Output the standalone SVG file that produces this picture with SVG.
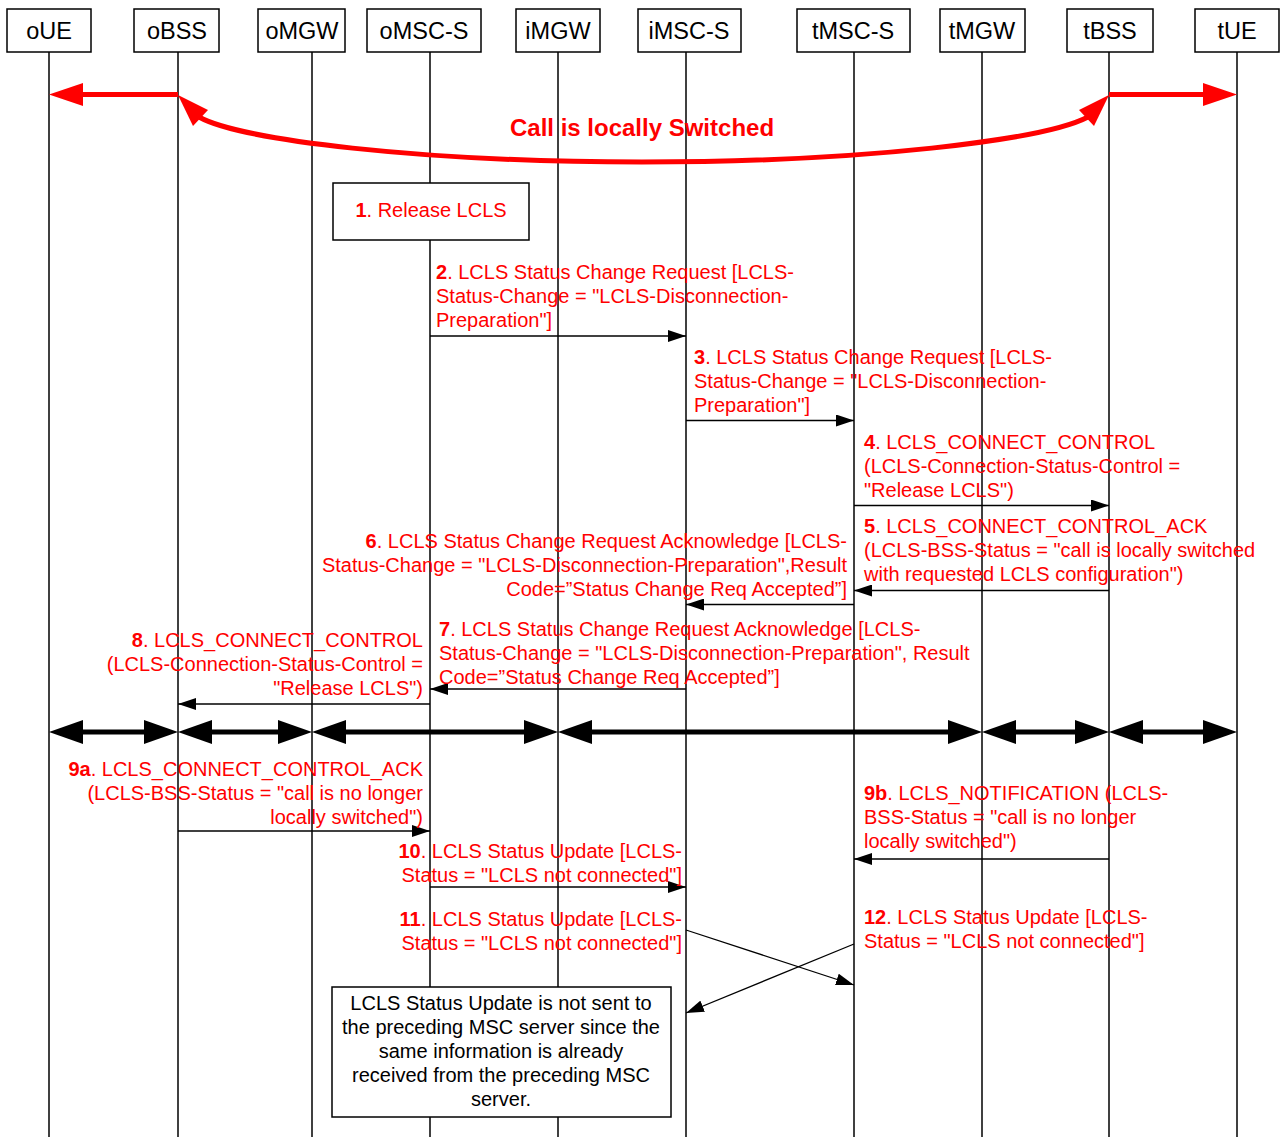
<svg xmlns="http://www.w3.org/2000/svg" width="1282" height="1137" viewBox="0 0 1282 1137">
<style>
.hdr rect{fill:#fff;stroke:#000;stroke-width:1.5}
.hdr text{font-family:"Liberation Sans",Arial,sans-serif;font-size:23.5px;fill:#000;text-anchor:middle}
.life{stroke:#000;stroke-width:1.5}
.msg{stroke:#000;stroke-width:1.3;fill:none;marker-end:url(#ah)}
.thick{stroke:#000;stroke-width:5;marker-start:url(#tk);marker-end:url(#tk)}
.red{stroke:#f00;stroke-width:5;fill:none}
.lbl{font-family:"Liberation Sans",Arial,sans-serif;font-size:20px;fill:#f00}
.lbl tspan.n{font-weight:bold}
.r{text-anchor:end}
.note{font-family:"Liberation Sans",Arial,sans-serif;font-size:20px;fill:#000;text-anchor:middle}
.box{fill:#fff;stroke:#000;stroke-width:1.5}
</style>
<defs>
<marker id="ah" markerUnits="userSpaceOnUse" markerWidth="18" markerHeight="12" refX="18" refY="6" orient="auto"><path d="M0,0 L18,6 L0,12 z" fill="#000"/></marker>
<marker id="tk" markerUnits="userSpaceOnUse" markerWidth="34" markerHeight="24" refX="0" refY="12" orient="auto-start-reverse"><path d="M0,0 L34,12 L0,24 z" fill="#000"/></marker>
<marker id="rk" markerUnits="userSpaceOnUse" markerWidth="34" markerHeight="24" refX="0" refY="12" orient="auto-start-reverse"><path d="M0,0 L34,12 L0,24 z" fill="#f00"/></marker>
</defs>

<g id="lifelines">
<line class="life" x1="49" y1="52" x2="49" y2="1137"/>
<line class="life" x1="178" y1="52" x2="178" y2="1137"/>
<line class="life" x1="312" y1="52" x2="312" y2="1137"/>
<line class="life" x1="430" y1="52" x2="430" y2="1137"/>
<line class="life" x1="558" y1="52" x2="558" y2="1137"/>
<line class="life" x1="686" y1="52" x2="686" y2="1137"/>
<line class="life" x1="854" y1="52" x2="854" y2="1137"/>
<line class="life" x1="982" y1="52" x2="982" y2="1137"/>
<line class="life" x1="1109" y1="52" x2="1109" y2="1137"/>
<line class="life" x1="1237" y1="52" x2="1237" y2="1137"/>
</g>

<g id="oUE" class="hdr"><rect x="7" y="9" width="84" height="43"/><text x="49" y="38.5">oUE</text></g>
<g id="oBSS" class="hdr"><rect x="134" y="9" width="85" height="43"/><text x="177" y="38.5">oBSS</text></g>
<g id="oMGW" class="hdr"><rect x="258" y="9" width="87" height="43"/><text x="302" y="38.5">oMGW</text></g>
<g id="oMSC-S" class="hdr"><rect x="367" y="9" width="114" height="43"/><text x="424" y="38.5">oMSC-S</text></g>
<g id="iMGW" class="hdr"><rect x="516" y="9" width="84" height="43"/><text x="558" y="38.5">iMGW</text></g>
<g id="iMSC-S" class="hdr"><rect x="638" y="9" width="103" height="43"/><text x="689" y="38.5">iMSC-S</text></g>
<g id="tMSC-S" class="hdr"><rect x="797" y="9" width="113" height="43"/><text x="853" y="38.5">tMSC-S</text></g>
<g id="tMGW" class="hdr"><rect x="940" y="9" width="85" height="43"/><text x="982" y="38.5">tMGW</text></g>
<g id="tBSS" class="hdr"><rect x="1067" y="9" width="86" height="43"/><text x="1110" y="38.5">tBSS</text></g>
<g id="tUE" class="hdr"><rect x="1195" y="9" width="84" height="43"/><text x="1237" y="38.5">tUE</text></g>

<g id="local-switch">
<line class="red" x1="178" y1="94.5" x2="83" y2="94.5"/>
<path d="M49,94.5 L83,83 L83,106 z" fill="#f00"/>
<line class="red" x1="1109" y1="94.5" x2="1203" y2="94.5"/>
<path d="M1237,94.5 L1203,83 L1203,106 z" fill="#f00"/>
<path class="red" d="M199,117 C240,140 420,162 642,162 C864,162 1044,140 1088,117"/>
<path d="M178,95 L208,110 L193,126 z" fill="#f00"/>
<path d="M1109,95 L1079,110 L1094,126 z" fill="#f00"/>
<text x="642" y="136" font-family="Liberation Sans, Arial, sans-serif" font-size="24" font-weight="bold" fill="#f00" text-anchor="middle">Call is locally Switched</text>
</g>

<g id="step1">
<rect class="box" x="333" y="183" width="196" height="57"/>
<text class="lbl" x="431" y="217" text-anchor="middle"><tspan class="n">1</tspan>. Release LCLS</text>
</g>

<g id="connectors">
<line class="msg" x1="430" y1="336" x2="686" y2="336"/>
<line class="msg" x1="686" y1="420.5" x2="854" y2="420.5"/>
<line class="msg" x1="854" y1="505.5" x2="1109" y2="505.5"/>
<line class="msg" x1="1109" y1="590.5" x2="854" y2="590.5"/>
<line class="msg" x1="854" y1="604.5" x2="686" y2="604.5"/>
<line class="msg" x1="686" y1="689" x2="430" y2="689"/>
<line class="msg" x1="430" y1="704" x2="178" y2="704"/>
<line class="thick" x1="83" y1="732" x2="144" y2="732"/>
<line class="thick" x1="212" y1="732" x2="278" y2="732"/>
<line class="thick" x1="346" y1="732" x2="524" y2="732"/>
<line class="thick" x1="592" y1="732" x2="948" y2="732"/>
<line class="thick" x1="1016" y1="732" x2="1075" y2="732"/>
<line class="thick" x1="1143" y1="732" x2="1203" y2="732"/>
<line class="msg" x1="178" y1="831" x2="430" y2="831"/>
<line class="msg" x1="1109" y1="859" x2="854" y2="859"/>
<line class="msg" x1="430" y1="887" x2="686" y2="887"/>
<line class="msg" x1="686" y1="930" x2="854" y2="985"/>
<line class="msg" x1="854" y1="944" x2="686" y2="1013"/>
</g>

<g id="labels">
<text class="lbl" x="436"><tspan x="436" y="279"><tspan class="n">2</tspan>. LCLS Status Change Request [LCLS-</tspan><tspan x="436" y="303">Status-Change = "LCLS-Disconnection-</tspan><tspan x="436" y="327">Preparation"]</tspan></text>
<text class="lbl" x="694"><tspan x="694" y="364"><tspan class="n">3</tspan>. LCLS Status Change Request [LCLS-</tspan><tspan x="694" y="388">Status-Change = "LCLS-Disconnection-</tspan><tspan x="694" y="412">Preparation"]</tspan></text>
<text class="lbl" x="864"><tspan x="864" y="449"><tspan class="n">4</tspan>. LCLS_CONNECT_CONTROL</tspan><tspan x="864" y="473">(LCLS-Connection-Status-Control =</tspan><tspan x="864" y="497">"Release LCLS")</tspan></text>
<text class="lbl" x="864"><tspan x="864" y="533"><tspan class="n">5</tspan>. LCLS_CONNECT_CONTROL_ACK</tspan><tspan x="864" y="557">(LCLS-BSS-Status = "call is locally switched</tspan><tspan x="864" y="581">with requested LCLS configuration")</tspan></text>
<text class="lbl r" x="847"><tspan x="847" y="548"><tspan class="n">6</tspan>. LCLS Status Change Request Acknowledge [LCLS-</tspan><tspan x="847" y="572">Status-Change = "LCLS-Disconnection-Preparation",Result</tspan><tspan x="847" y="596">Code=”Status Change Req Accepted”]</tspan></text>
<text class="lbl" x="439"><tspan x="439" y="636"><tspan class="n">7</tspan>. LCLS Status Change Request Acknowledge [LCLS-</tspan><tspan x="439" y="660">Status-Change = "LCLS-Disconnection-Preparation", Result</tspan><tspan x="439" y="684">Code=”Status Change Req Accepted”]</tspan></text>
<text class="lbl r" x="423"><tspan x="423" y="647"><tspan class="n">8</tspan>. LCLS_CONNECT_CONTROL</tspan><tspan x="423" y="671">(LCLS-Connection-Status-Control =</tspan><tspan x="423" y="695">"Release LCLS")</tspan></text>
<text class="lbl r" x="423"><tspan x="423" y="776"><tspan class="n">9a</tspan>. LCLS_CONNECT_CONTROL_ACK</tspan><tspan x="423" y="800">(LCLS-BSS-Status = "call is no longer</tspan><tspan x="423" y="824">locally switched")</tspan></text>
<text class="lbl" x="864"><tspan x="864" y="800"><tspan class="n">9b</tspan>. LCLS_NOTIFICATION (LCLS-</tspan><tspan x="864" y="824">BSS-Status = "call is no longer</tspan><tspan x="864" y="848">locally switched")</tspan></text>
<text class="lbl r" x="682"><tspan x="682" y="858"><tspan class="n">10</tspan>. LCLS Status Update [LCLS-</tspan><tspan x="682" y="882">Status = "LCLS not connected"]</tspan></text>
<text class="lbl r" x="682"><tspan x="682" y="926"><tspan class="n">11</tspan>. LCLS Status Update [LCLS-</tspan><tspan x="682" y="950">Status = "LCLS not connected"]</tspan></text>
<text class="lbl" x="864"><tspan x="864" y="924"><tspan class="n">12</tspan>. LCLS Status Update [LCLS-</tspan><tspan x="864" y="948">Status = "LCLS not connected"]</tspan></text>
</g>

<g id="note">
<rect class="box" x="332" y="987" width="339" height="130"/>
<text class="note"><tspan x="501" y="1010">LCLS Status Update is not sent to</tspan><tspan x="501" y="1034">the preceding MSC server since the</tspan><tspan x="501" y="1058">same information is already</tspan><tspan x="501" y="1082">received from the preceding MSC</tspan><tspan x="501" y="1106">server.</tspan></text>
</g>
</svg>
